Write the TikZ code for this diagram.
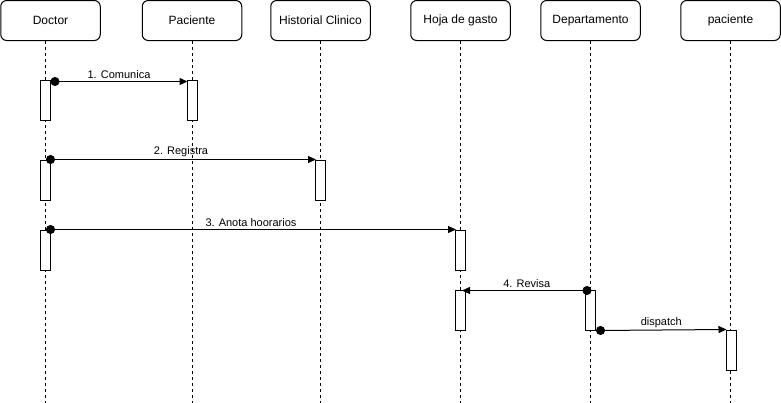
\documentclass[tikz,border=0pt]{standalone}
\usepackage{fontspec}
\setmainfont{Liberation Sans}
\usetikzlibrary{arrows.meta}

\begin{document}
\begin{tikzpicture}[
    x=1pt, y=-1pt, line width=1pt,
    every node/.style={font=\fontsize{12}{14}\selectfont},
    actor/.style={draw, rounded corners=6pt, minimum width=99.5pt, minimum height=40pt, inner sep=0pt},
    act/.style={draw, fill=white, minimum width=10pt, minimum height=40pt, inner sep=0pt},
    life/.style={line width=0.9pt, dash pattern=on 3pt off 3pt},
    msg/.style={{Circle[length=9pt]}-{Triangle[length=8pt,width=7pt]}},
    lbl/.style={font=\fontsize{11}{13}\selectfont, above, inner sep=2pt}
]
\useasboundingbox (0,0) rectangle (781,402);

\node[actor] (doctor) at (50.5,20.5) {Doctor};
\node[actor] (paciente) at (192,20.5) {Paciente};
\node[actor] (historial) at (320.5,20.5) {Historial Clinico};
\node[actor] (hoja) at (460.5,20.5) {Hoja de gasto};
\node[actor] (depto) at (590.5,20.5) {Departamento};
\node[actor] (paciente2) at (730.5,20.5) {paciente};

\draw[life] ([xshift=-5.5pt]doctor.south) -- ++(0,362);
\draw[life] (paciente.south) -- ++(0,362);
\draw[life] (historial.south) -- ++(0,362);
\draw[life] (hoja.south) -- ++(0,362);
\draw[life] (depto.south) -- ++(0,362);
\draw[life] (paciente2.south) -- ++(0,362);

\node[act] (d1) at (45,100) {};
\node[act] (p1) at (192,100) {};
\node[act] (d2) at (45,180) {};
\node[act] (h1) at (320.5,180) {};
\node[act] (d3) at (45,250) {};
\node[act] (g1) at (460.5,250) {};
\node[act] (g2) at (460.5,310) {};
\node[act] (e1) at (590.5,310) {};
\node[act] (q1) at (731,350) {};

\draw[msg] ([yshift=-2pt]d1.north east) -- node[lbl] {1. Comunica} ([xshift=1pt,yshift=-2pt]p1.north west);
\draw[msg] ([xshift=-4.5pt]d2.north east) -- node[lbl] {2. Registra} ([xshift=1pt]h1.north west);
\draw[msg] ([xshift=-4.5pt]d3.north east) -- node[lbl] {3. Anota hoorarios} ([xshift=1pt]g1.north west);
\draw[msg] ([xshift=1pt,yshift=-1pt]e1.north) -- node[lbl] {4. Revisa} ([xshift=-4pt,yshift=-1pt]g2.north east);
\draw[msg] (e1.south east) -- node[lbl] {dispatch} ([xshift=1pt]q1.north west);
\end{tikzpicture}
\end{document}
